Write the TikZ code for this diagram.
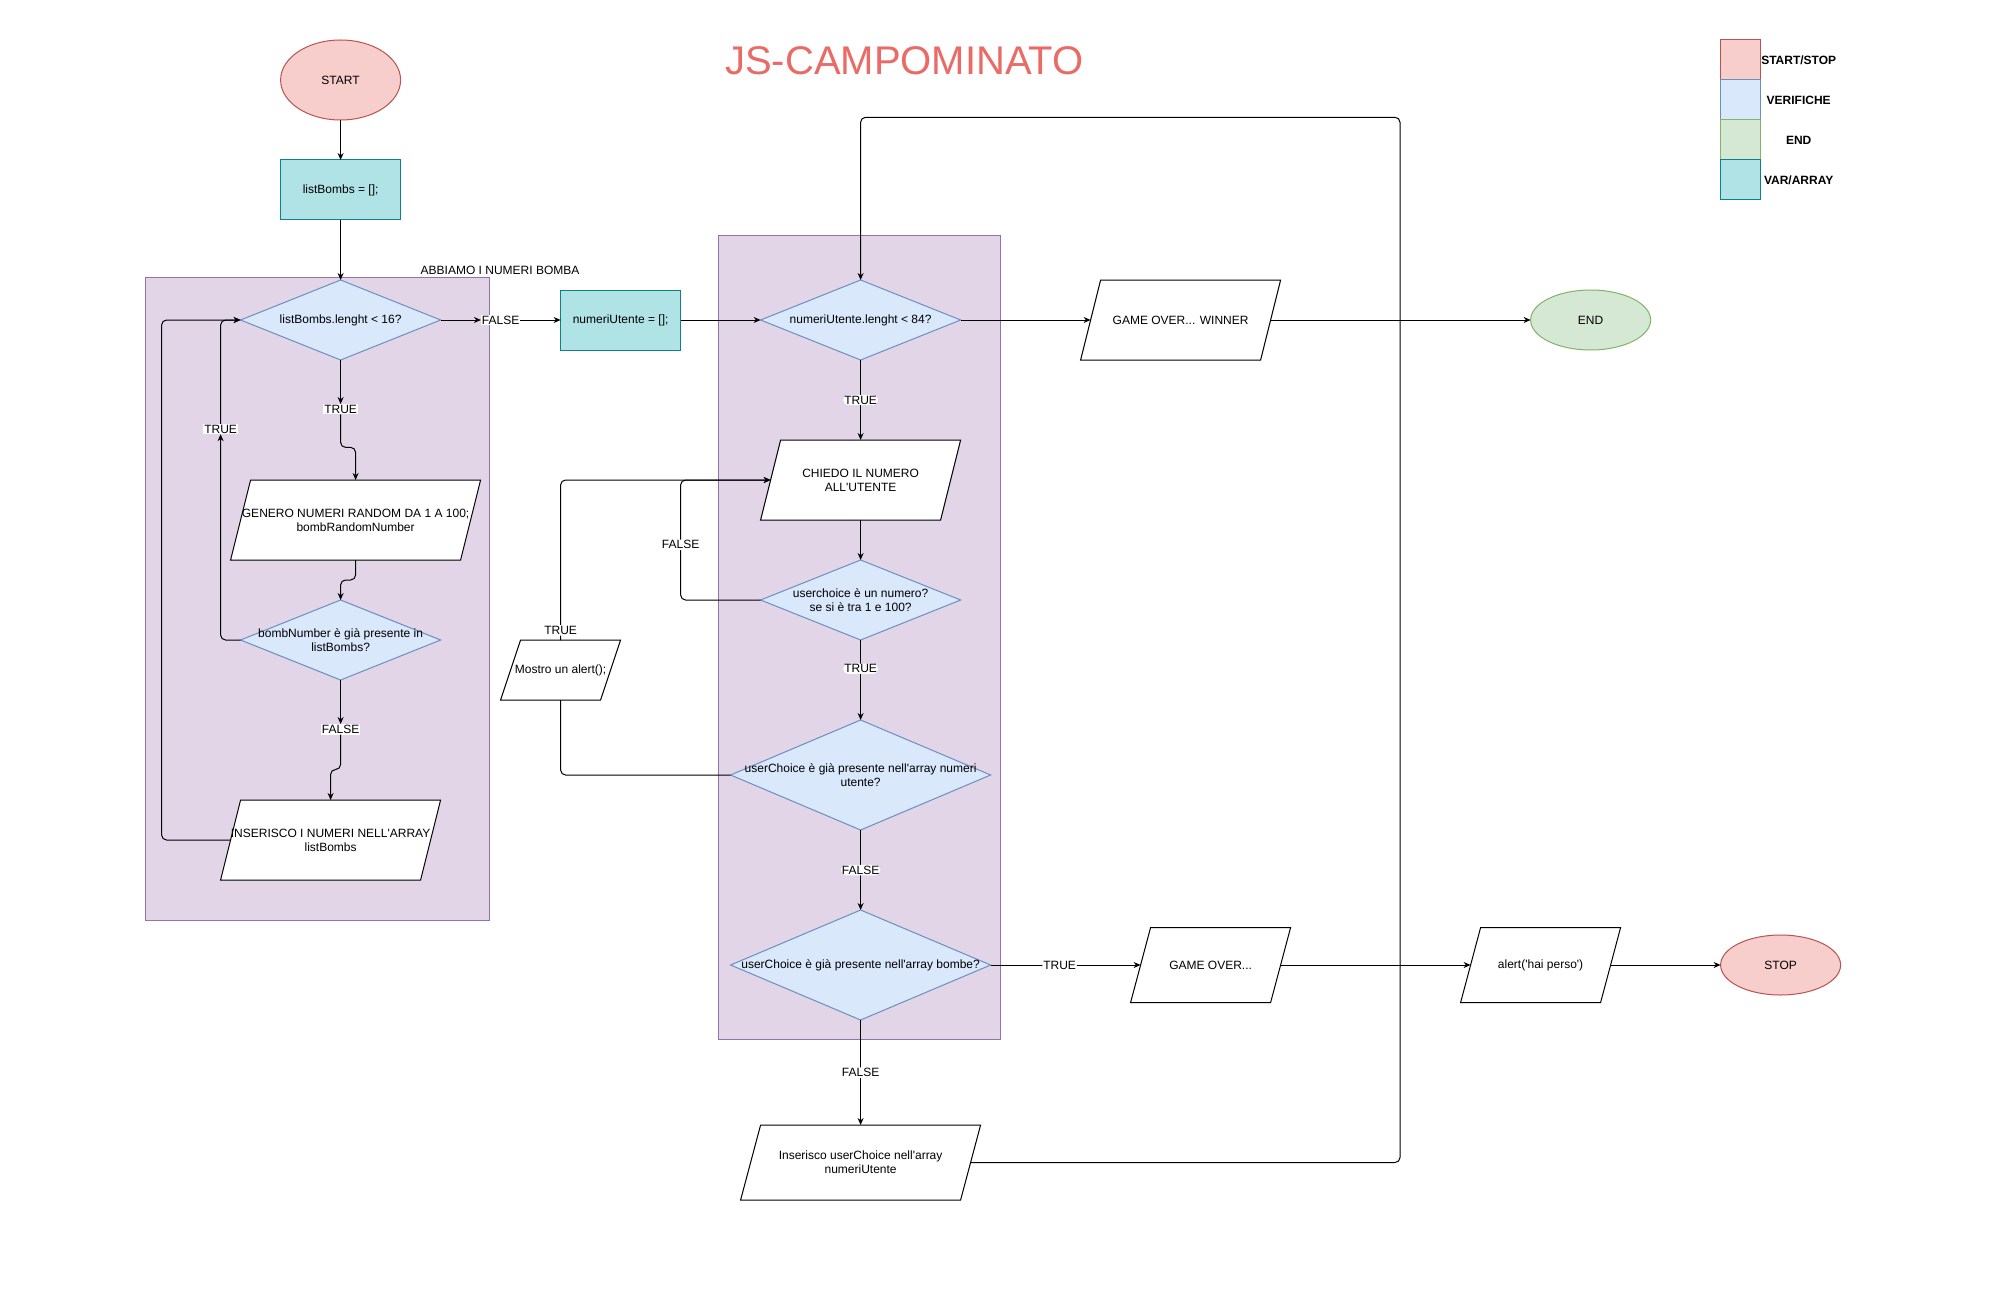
\documentclass[tikz,border=0pt]{standalone}
\usepackage{fontspec}
\setmainfont{Liberation Sans}[Ligatures=TeXOff]
\usepackage{xcolor}
\usepackage{tikz}
\usetikzlibrary{shapes.geometric,arrows.meta,positioning,calc}

\definecolor{stopfill}{HTML}{F8CECC}
\definecolor{stopline}{HTML}{B85450}
\definecolor{checkfill}{HTML}{DAE8FC}
\definecolor{checkline}{HTML}{6C8EBF}
\definecolor{endfill}{HTML}{D5E8D4}
\definecolor{endline}{HTML}{82B366}
\definecolor{varfill}{HTML}{B0E3E6}
\definecolor{varline}{HTML}{0E8088}
\definecolor{zonefill}{HTML}{E1D5E7}
\definecolor{zoneline}{HTML}{9673A6}
\definecolor{titlered}{HTML}{EA6B66}

% parallelogram with a fixed 20pt slant, sized like a rectangle
\makeatletter
\newdimen\slantx
\newdimen\slanty
\newdimen\slantX
\newdimen\slantY
\pgfdeclareshape{slantbox}{%
  \inheritsavedanchors[from=rectangle]%
  \inheritanchor[from=rectangle]{center}%
  \inheritanchor[from=rectangle]{text}%
  \inheritanchor[from=rectangle]{base}%
  \inheritanchor[from=rectangle]{north}%
  \inheritanchor[from=rectangle]{south}%
  \inheritanchorborder[from=rectangle]%
  \anchor{west}{%
    \southwest \slantx=\pgf@x\relax \slanty=\pgf@y\relax
    \northeast
    \pgf@y=.5\pgf@y \advance\pgf@y by .5\slanty
    \pgf@x=\slantx \advance\pgf@x by 10pt\relax}%
  \anchor{east}{%
    \southwest \slanty=\pgf@y\relax
    \northeast
    \advance\pgf@x by -10pt\relax
    \pgf@y=.5\pgf@y \advance\pgf@y by .5\slanty}%
  \backgroundpath{%
    \southwest \slantx=\pgf@x\relax \slanty=\pgf@y\relax
    \northeast \slantX=\pgf@x\relax \slantY=\pgf@y\relax
    \pgfpathmoveto{\pgfqpoint{\slantx}{\slanty}}%
    \advance\slantX by -20pt\relax
    \pgfpathlineto{\pgfqpoint{\slantX}{\slanty}}%
    \advance\slantX by 20pt\relax
    \pgfpathlineto{\pgfqpoint{\slantX}{\slantY}}%
    \advance\slantx by 20pt\relax
    \pgfpathlineto{\pgfqpoint{\slantx}{\slantY}}%
    \pgfpathclose}%
}
\makeatother

\begin{document}
\begin{tikzpicture}[
  x=1pt, y=-1pt,
  font=\fontsize{12}{14}\selectfont,
  terminal/.style={ellipse, draw=stopline, fill=stopfill, line width=1pt,
    minimum width=120pt, minimum height=60pt, inner sep=0pt, outer sep=0pt},
  varbox/.style={rectangle, draw=varline, fill=varfill, line width=1pt,
    minimum width=120pt, minimum height=60pt, outer sep=0pt},
  check/.style={diamond, draw=checkline, fill=checkfill, line width=1pt,
    aspect=2.5, inner sep=0pt, outer sep=0pt, align=center,
    minimum width=200pt, minimum height=80pt},
  io/.style={slantbox, draw, fill=white, line width=1pt, inner sep=0pt,
    outer sep=0pt, align=center, minimum width=200pt, minimum height=80pt},
  zone/.style={rectangle, draw=zoneline, fill=zonefill, line width=1pt,
    inner sep=0pt},
  lbl/.style={fill=white, inner sep=1pt, outer sep=0pt},
  legendbox/.style={rectangle, line width=1pt, minimum width=40pt,
    minimum height=40pt, outer sep=0pt},
  legendtxt/.style={font=\fontsize{12}{14}\selectfont\bfseries},
  arrow/.style={-{Stealth[length=7pt, width=6pt]}, line width=1pt,
    rounded corners=5pt},
  link/.style={line width=1pt, rounded corners=5pt},
]
  \path[use as bounding box, fill=white] (0,0) rectangle (2000,1300);

  % containers
  \node[zone, minimum width=344pt, minimum height=643pt] (bombzone) at (317.6,598.8) {};
  \node[zone, minimum width=282pt, minimum height=804pt] (userzone) at (859,637.4) {};
  \node (bombnote) at (500,270) {ABBIAMO I NUMERI BOMBA};

  \node[font=\fontsize{40}{48}\selectfont, text=titlered] (title) at (904.5,61) {JS-CAMPOMINATO};

  % legend
  \node[legendbox, draw=stopline, fill=stopfill] (k1) at (1740.7,60) {};
  \node[legendbox, draw=checkline, fill=checkfill, below=0pt of k1] (k2) {};
  \node[legendbox, draw=endline, fill=endfill, below=0pt of k2] (k3) {};
  \node[legendbox, draw=varline, fill=varfill, below=0pt of k3] (k4) {};
  \node[legendtxt] (k1txt) at ($(k1.east)+(38,0)$) {START/STOP};
  \node[legendtxt] (k2txt) at ($(k2.east)+(38,0)$) {VERIFICHE};
  \node[legendtxt] (k3txt) at ($(k3.east)+(38,0)$) {END};
  \node[legendtxt] (k4txt) at ($(k4.east)+(38,0)$) {VAR/ARRAY};

  % bombs
  \node[terminal, minimum height=80pt] (start) at (340.6,80) {START};
  \node[varbox, below=40pt of start] (listbombs) {listBombs = [];};
  \node[check, below=60pt of listbombs] (d1) {listBombs.lenght < 16?};
  \node[lbl, below=44pt of d1] (t1) {TRUE};
  \node[io, minimum width=250pt, below=120pt of d1, xshift=15pt] (genero) {GENERO NUMERI RANDOM DA 1 A 100;\\bombRandomNumber};
  \node[check, inner xsep=-18pt, below=40pt of genero, xshift=-15pt] (d3) {bombNumber è già presente in\\listBombs?};
  \node[lbl, below=44pt of d3] (f3) {FALSE};
  \node[lbl] (t3) at ($(d1.west)+(-20,109)$) {TRUE};
  \node[io, minimum width=220pt, below=120pt of d3, xshift=-10pt] (insbombs) {INSERISCO I NUMERI NELL'ARRAY\\listBombs};

  % user
  \node[varbox, right=120pt of d1] (numut) {numeriUtente = [];};
  \node[lbl] (f1) at ($(d1.east)!0.5!(numut.west)$) {FALSE};
  \node[check, right=80pt of numut] (d2) {numeriUtente.lenght < 84?};
  \node[io, below=80pt of d2] (chiedo) {CHIEDO IL NUMERO\\ALL'UTENTE};
  \node[check, inner xsep=-4pt, below=40pt of chiedo] (d4) {userchoice è un numero?\\se si è tra 1 e 100?};
  \node[check, aspect=2.36, minimum width=260pt, minimum height=110pt, inner xsep=-20pt, below=80pt of d4] (d5) {userChoice è già presente nell'array numeri\\utente?};
  \node[check, aspect=2.36, minimum width=260pt, minimum height=110pt, inner xsep=-8pt, below=80pt of d5] (d6) {userChoice è già presente nell'array bombe?};
  \node[io, minimum width=240pt, minimum height=75pt, below=105pt of d6] (insut) {Inserisco userChoice nell'array\\numeriUtente};
  \node[io, minimum width=120pt, minimum height=60pt] (mostro) at ($(d4.west)+(-200,70)$) {Mostro un alert();};
  \coordinate (loopcorner) at (1400,117.3);

  % results
  \node[io, right=130pt of d2] (winner) {GAME OVER... WINNER};
  \node[terminal, draw=endline, fill=endfill, right=260pt of winner] (endnode) {END};
  \node[io, minimum width=160pt, minimum height=75pt, right=150pt of d6] (gameover) {GAME OVER...};
  \node[io, minimum width=160pt, minimum height=75pt, right=190pt of gameover] (alert) {alert('hai perso')};
  \node[terminal, right=110pt of alert] (stop) {STOP};

  \draw[arrow] (start) -- (listbombs);
  \draw[arrow] (listbombs) -- (d1);
  \draw[arrow] (d1) -- (t1);
  \draw[arrow] (t1.south) -- ++(0,33) -| (genero.north);
  \draw[arrow] (genero.south) -- ++(0,20) -| (d3.north);
  \draw[arrow] (d3) -- (f3);
  \draw[arrow] (f3.south) -- ++(0,35) -| (insbombs.north);
  \draw[arrow] (d3.west) -| (t3.south);
  \draw[arrow] (t3.north) |- (d1.west);
  \draw[arrow] (insbombs.west) -- ++(-69,0) |- (d1.west);
  \draw[arrow] (d1) -- (f1);
  \draw[arrow] (f1) -- (numut);
  \draw[arrow] (numut) -- (d2);
  \draw[arrow] (d2) -- node[lbl] {TRUE} (chiedo.north);
  \draw[arrow] (chiedo.south) -- (d4);
  \draw[arrow] (d4.west) -- ++(-80,0) |- node[lbl, pos=0.23] {FALSE} (chiedo.west);
  \draw[arrow] (d4) -- node[lbl, pos=0.36] {TRUE} (d5);
  \draw[link] (d5.west) -| (mostro.south);
  \draw[arrow] (mostro.north) |- node[lbl, pos=0.03] {TRUE} (chiedo.west);
  \draw[arrow] (d5) -- node[lbl] {FALSE} (d6);
  \draw[arrow] (d6) -- node[lbl] {FALSE} (insut.north);
  \draw[arrow] (insut.east) -| (loopcorner) -| (d2.north);
  \draw[arrow] (d2) -- (winner.west);
  \draw[arrow] (winner.east) -- (endnode);
  \draw[arrow] (d6) -- node[lbl, pos=0.46] {TRUE} (gameover.west);
  \draw[arrow] (gameover.east) -- (alert.west);
  \draw[arrow] (alert.east) -- (stop);
\end{tikzpicture}
\end{document}
